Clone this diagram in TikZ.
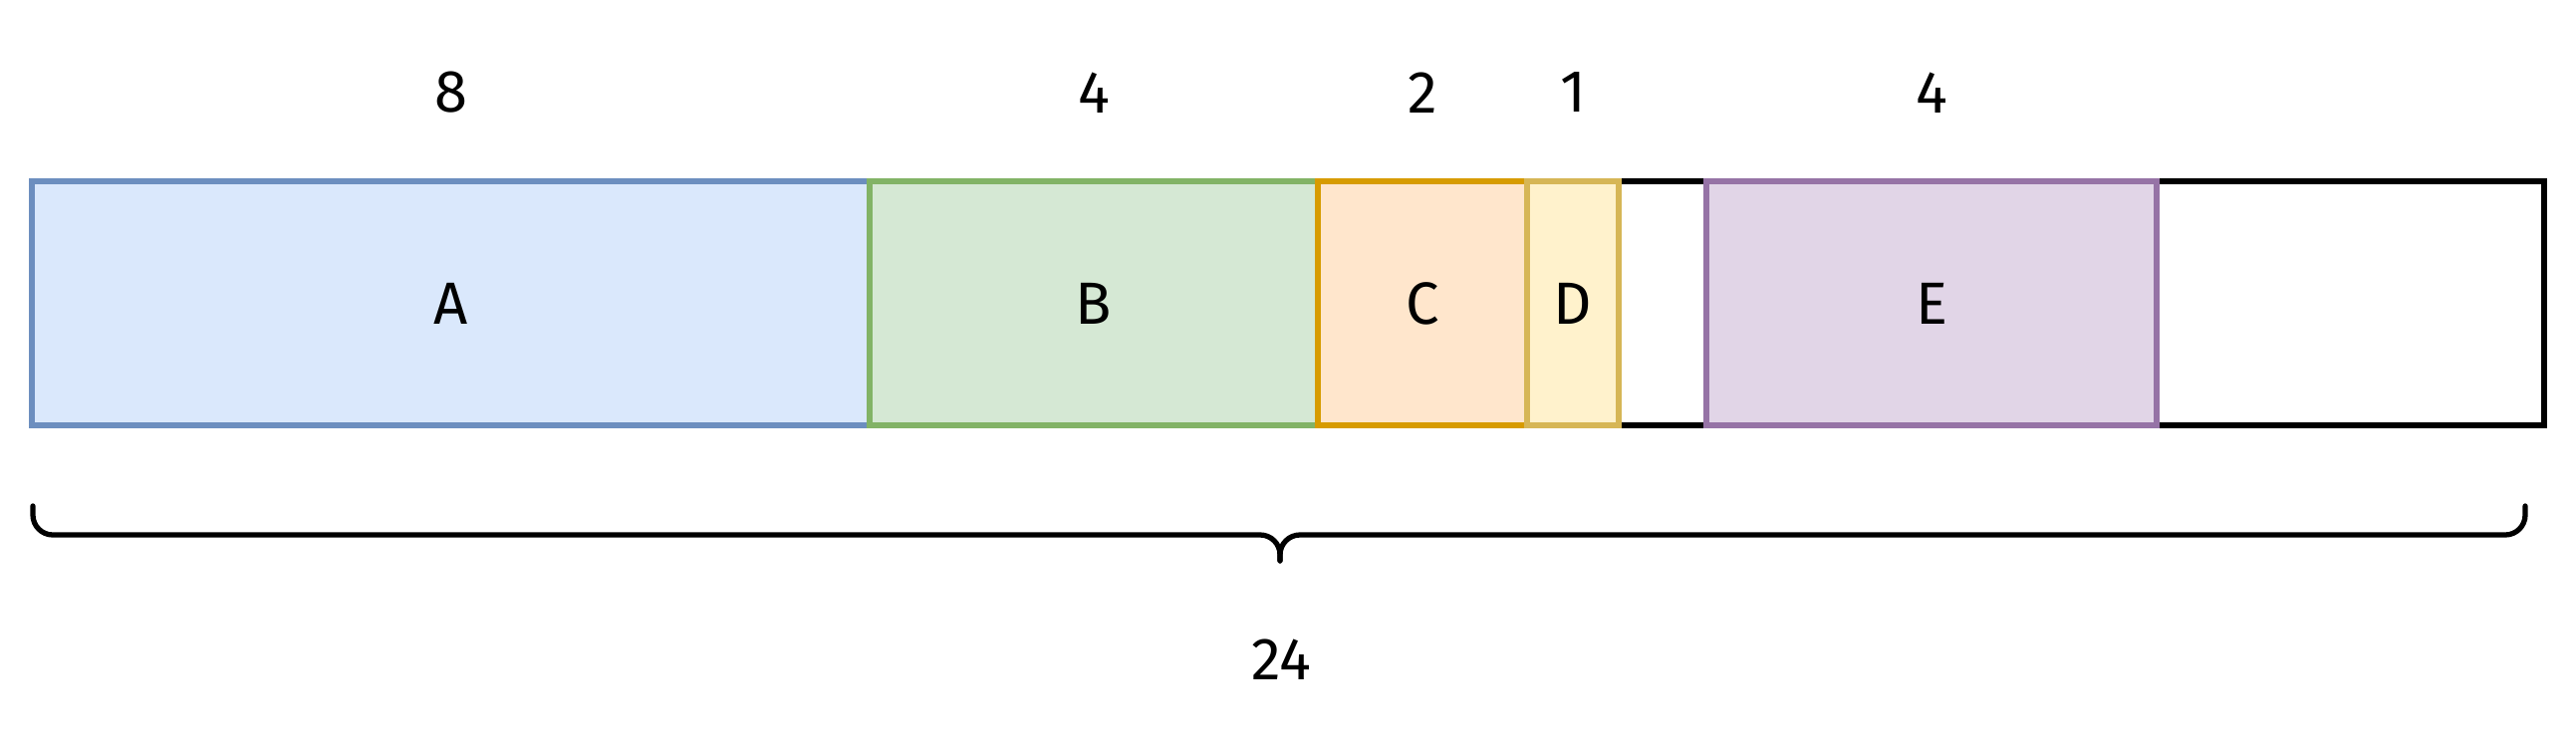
\documentclass[tikz,border=0pt]{standalone}
\usepackage{fontspec}
\setmainfont{Fira Sans}

\definecolor{blueFill}{HTML}{DAE8FC}\definecolor{blueLine}{HTML}{6C8EBF}
\definecolor{greenFill}{HTML}{D5E8D4}\definecolor{greenLine}{HTML}{82B366}
\definecolor{orangeFill}{HTML}{FFE6CC}\definecolor{orangeLine}{HTML}{D79B00}
\definecolor{yellowFill}{HTML}{FFF2CC}\definecolor{yellowLine}{HTML}{D6B656}
\definecolor{purpleFill}{HTML}{E1D5E7}\definecolor{purpleLine}{HTML}{9673A6}

\begin{document}
\begin{tikzpicture}[
    seg/.style={draw, line width=1.7pt, minimum height=2.45cm, inner sep=0pt, outer sep=0pt,
      font=\fontsize{17}{20}\selectfont},
    numlab/.style={font=\fontsize{17}{20}\selectfont, inner sep=0pt},
    bracepart/.style={line width=1.5pt, rounded corners=0.2cm, line cap=round}
  ]
    \useasboundingbox (0,0) rectangle (25.86,-7.56);
    % the whole bar
    \node[seg, minimum width=25.22cm] (bar) at (12.93,-3.045) {};
    % the parts
    \node[seg, draw=blueLine, fill=blueFill, minimum width=8.41cm] (A) at (4.525,-3.045) {A};
    \node[seg, draw=greenLine, fill=greenFill, minimum width=4.50cm] (B) at (10.98,-3.045) {B};
    \node[seg, draw=orangeLine, fill=orangeFill, minimum width=2.10cm] (C) at (14.28,-3.045) {C};
    \node[seg, draw=yellowLine, fill=yellowFill, minimum width=0.92cm] (D) at (15.79,-3.045) {D};
    \node[seg, draw=purpleLine, fill=purpleFill, minimum width=4.52cm] (E) at (19.39,-3.045) {E};
    % sizes
    \node[numlab] (nA) at ([yshift=0.89cm]A.north) {8};
    \node[numlab] (nB) at ([yshift=0.89cm]B.north) {4};
    \node[numlab] (nC) at ([yshift=0.89cm]C.north) {2};
    \node[numlab] (nD) at ([yshift=0.89cm]D.north) {1};
    \node[numlab] (nE) at ([yshift=0.89cm]E.north) {4};
    % total
    \coordinate (bl) at (0.33,-5.08);
    \coordinate (br) at (25.35,-5.08);
    \coordinate (mid) at (12.85,-5.37);
    \coordinate (tip) at (12.85,-5.63);
    \draw[bracepart] (bl) |- (mid) -- (tip);
    \draw[bracepart] (br) |- (mid) -- (tip);
    \node[numlab] (total) at (12.86,-6.62) {24};
\end{tikzpicture}
\end{document}
